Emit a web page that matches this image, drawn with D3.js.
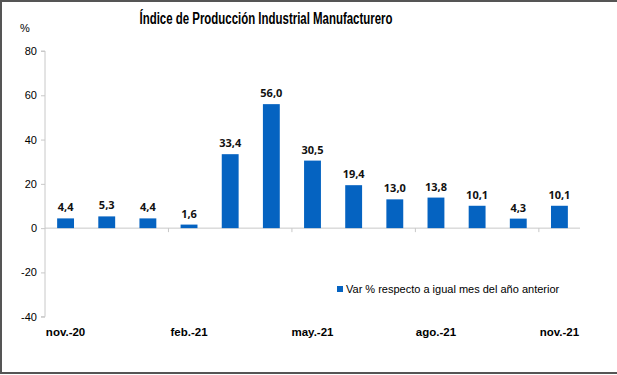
<!DOCTYPE html>
<html>
<head>
<meta charset="utf-8">
<script src="https://cdn.jsdelivr.net/npm/d3@7"></script>
<style>
  body { margin: 0; background: #fff; }
  svg { display: block; }
</style>
</head>
<body>
<div id="chart"></div>
<script>
const months = ["nov.-20", "dic.-20", "ene.-21", "feb.-21", "mar.-21", "abr.-21", "may.-21",
                "jun.-21", "jul.-21", "ago.-21", "sep.-21", "oct.-21", "nov.-21"];
const values = [4.4, 5.3, 4.4, 1.6, 33.4, 56.0, 30.5, 19.4, 13.0, 13.8, 10.1, 4.3, 10.1];
const shownMonths = ["nov.-20", "feb.-21", "may.-21", "ago.-21", "nov.-21"];
const yTicks = [-40, -20, 0, 20, 40, 60, 80];
const seriesName = "Var % respecto a igual mes del año anterior";
const title = "Índice de Producción Industrial Manufacturero";

const W = 617, H = 375;
const plotLeft = 45, plotRight = 580, plotTop = 51, plotBottom = 316.7;
const barColor = "#0563c1";

const svg = d3.select("#chart").append("svg")
  .attr("width", W).attr("height", H);

// frame
svg.append("path")
  .attr("d", `M${W},1 H1 V${H - 2} H${W}`)
  .attr("fill", "none").attr("stroke", "#555").attr("stroke-width", 2);

const x = d3.scaleBand().domain(months).range([plotLeft, plotRight]).paddingInner(0.59).paddingOuter(0.295);
const y = d3.scaleLinear().domain([-40, 80]).range([plotBottom, plotTop]);

// y axis
const yAxis = svg.append("g")
  .attr("transform", `translate(${plotLeft},0)`)
  .call(d3.axisLeft(y).tickValues(yTicks).tickFormat(d => String(d)).tickSize(4).tickPadding(4));
yAxis.select(".domain").attr("stroke", "#c8c8c8").attr("d", `M-4,${plotTop}H0V${plotBottom}H-4`);
yAxis.selectAll(".tick line").attr("stroke", "#c8c8c8");
yAxis.selectAll(".tick text")
  .attr("font-family", "Liberation Sans, Arial, sans-serif")
  .attr("font-size", 11).attr("fill", "#000");

// zero line with category tick marks every 3 months
const step = x.step();
svg.append("line")
  .attr("x1", plotLeft).attr("x2", plotRight)
  .attr("y1", y(0)).attr("y2", y(0))
  .attr("stroke", "#c8c8c8");
svg.selectAll(".cat-tick")
  .data(d3.range(3, months.length, 3))
  .join("line")
  .attr("class", "cat-tick")
  .attr("x1", i => plotLeft + i * step).attr("x2", i => plotLeft + i * step)
  .attr("y1", y(0)).attr("y2", y(0) + 4)
  .attr("stroke", "#c8c8c8");

// bars
svg.selectAll(".bar")
  .data(values)
  .join("rect")
  .attr("class", "bar")
  .attr("x", (d, i) => x(months[i]))
  .attr("width", x.bandwidth())
  .attr("y", d => y(Math.max(0, d)))
  .attr("height", d => Math.abs(y(d) - y(0)))
  .attr("fill", barColor);

// value labels
svg.selectAll(".val")
  .data(values)
  .join("text")
  .attr("class", "val")
  .attr("x", (d, i) => x(months[i]) + x.bandwidth() / 2)
  .attr("y", d => y(d) - 7)
  .attr("text-anchor", "middle")
  .attr("font-family", "Open Sans, sans-serif")
  .attr("font-weight", "bold")
  .attr("font-size", 11)
  .attr("fill", "#111")
  .text(d => d3.format(".1f")(d).replace(".", ","));

// x labels
svg.selectAll(".xlab")
  .data(shownMonths)
  .join("text")
  .attr("class", "xlab")
  .attr("x", d => x(d) + x.bandwidth() / 2)
  .attr("y", 336)
  .attr("text-anchor", "middle")
  .attr("font-family", "Liberation Sans, Arial, sans-serif")
  .attr("font-weight", "bold")
  .attr("font-size", 11.5)
  .attr("fill", "#000")
  .text(d => d);

// title (condensed to match the narrow original face)
svg.append("text")
  .attr("x", 266).attr("y", 24)
  .attr("text-anchor", "middle")
  .attr("font-family", "Liberation Sans, Arial, sans-serif")
  .attr("font-weight", "bold")
  .attr("font-size", 16)
  .attr("textLength", 253)
  .attr("lengthAdjust", "spacingAndGlyphs")
  .attr("fill", "#000")
  .text(title);

// unit
svg.append("text")
  .attr("x", 20).attr("y", 32)
  .attr("font-family", "Liberation Sans, Arial, sans-serif")
  .attr("font-size", 11)
  .text("%");

// legend
const lg = svg.append("g").attr("transform", "translate(337,286)");
lg.append("rect").attr("x", 0).attr("y", 0).attr("width", 6).attr("height", 6).attr("fill", barColor);
lg.append("text")
  .attr("x", 9).attr("y", 7)
  .attr("font-family", "Liberation Sans, Arial, sans-serif")
  .attr("font-size", 11)
  .attr("fill", "#000")
  .text(seriesName);
</script>
</body>
</html>
